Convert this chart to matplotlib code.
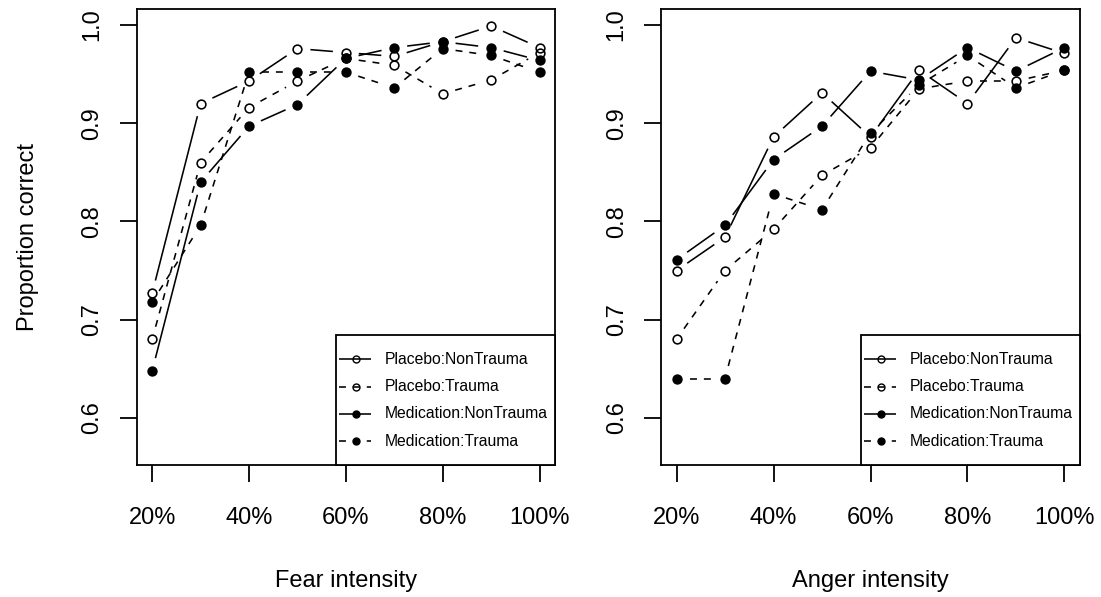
import numpy as np
import matplotlib
matplotlib.use("Agg")
import matplotlib.pyplot as plt
from matplotlib.patches import Rectangle

plt.rcParams['font.family'] = ['Liberation Sans', 'DejaVu Sans']
plt.rcParams['lines.scale_dashes'] = False

# ---------------- data ----------------
intensity = [20, 30, 40, 50, 60, 70, 80, 90, 100]
tick_vals = [20, 40, 60, 80, 100]
tick_labels = ["20%", "40%", "60%", "80%", "100%"]
y_ticks = [0.6, 0.7, 0.8, 0.9, 1.0]
y_tick_labels = ["0.6", "0.7", "0.8", "0.9", "1.0"]

series_names = ["Placebo:NonTrauma", "Placebo:Trauma",
                "Medication:NonTrauma", "Medication:Trauma"]

fear_placebo_nontrauma = [0.727, 0.920, 0.943, 0.976, 0.972, 0.968, 0.983, 0.999, 0.977]
fear_placebo_trauma = [0.680, 0.860, 0.916, 0.943, 0.966, 0.959, 0.930, 0.944, 0.972]
fear_medication_nontrauma = [0.648, 0.840, 0.897, 0.919, 0.966, 0.977, 0.983, 0.977, 0.964]
fear_medication_trauma = [0.718, 0.796, 0.952, 0.952, 0.952, 0.936, 0.976, 0.969, 0.952]

anger_placebo_nontrauma = [0.750, 0.784, 0.886, 0.931, 0.886, 0.954, 0.920, 0.987, 0.971]
anger_placebo_trauma = [0.680, 0.750, 0.792, 0.847, 0.875, 0.935, 0.943, 0.943, 0.954]
anger_medication_nontrauma = [0.761, 0.796, 0.863, 0.897, 0.953, 0.944, 0.977, 0.953, 0.977]
anger_medication_trauma = [0.640, 0.640, 0.828, 0.812, 0.890, 0.939, 0.969, 0.936, 0.954]

x_labels = ["Fear intensity", "Anger intensity"]
y_label = "Proportion correct"

# ---------------- styles ----------------
DASH = (0, (5, 5))
styles = [
    dict(ls='-', mfc='none'),
    dict(ls=DASH, mfc='none'),
    dict(ls='-', mfc='black'),
    dict(ls=DASH, mfc='black'),
]

W, H = 1101, 597
fig = plt.figure(figsize=(W / 100, H / 100), dpi=100)

AX_PX = [(136.7, 555, 9.3, 465), (661, 1080, 9.3, 465)]


def px_rect(x0, x1, ytop, ybot):
    return [x0 / W, 1 - ybot / H, (x1 - x0) / W, (ybot - ytop) / H]


axes = [fig.add_axes(px_rect(*r)) for r in AX_PX]

panels = [
    [fear_placebo_nontrauma, fear_placebo_trauma, fear_medication_nontrauma, fear_medication_trauma],
    [anger_placebo_nontrauma, anger_placebo_trauma, anger_medication_nontrauma, anger_medication_trauma],
]

GAP = 13.0  # pixel gap around points (R type="b")
LW = 1.15


def gapped(ax, xs, ys, gap, **kw):
    """Draw a line through the data points leaving a gap around each point."""
    pts = ax.transData.transform(np.column_stack([xs, ys]))
    inv = ax.transData.inverted()
    for p0, p1 in zip(pts[:-1], pts[1:]):
        d = p1 - p0
        L = np.hypot(*d)
        if L <= 2 * gap:
            continue
        u = d / L
        seg = inv.transform(np.vstack([p0 + u * gap, p1 - u * gap]))
        ax.plot(seg[:, 0], seg[:, 1], color='black', lw=LW,
                solid_capstyle='butt', dash_capstyle='butt', **kw)


for ax, data, (ax0, ax1, atop, abot) in zip(axes, panels, AX_PX):
    ax.set_xlim(16.8, 103.2)
    ax.set_ylim(0.552, 1.016)
    for vals, st in zip(data, styles):
        gapped(ax, intensity, vals, GAP, ls=st['ls'])
        ax.plot(intensity, vals, ls='none', marker='o', ms=6.3,
                mfc=st['mfc'], mec='black', mew=1.15)
    ax.set_xticks(tick_vals)
    ax.set_xticklabels(tick_labels)
    ax.set_yticks(y_ticks)
    ax.set_yticklabels(y_tick_labels)
    ax.tick_params(axis='both', direction='out', length=12, width=1.3,
                   labelsize=17, color='black')
    ax.tick_params(axis='x', pad=18)
    ax.tick_params(axis='y', pad=12, labelrotation=90)
    for lab in ax.get_yticklabels():
        lab.set_va('center')
    for sp in ax.spines.values():
        sp.set_linewidth(1.3)
        sp.set_color('black')

    # ---- legend drawn R-style in the lower right corner ----
    aw, ah = ax1 - ax0, abot - atop

    def fx(px):
        return (px - ax0) / aw

    def fy(py):
        return (abot - py) / ah

    leg_left = ax1 - 219
    leg_top = abot - 130
    ax.add_patch(Rectangle((fx(leg_left), 0), fx(ax1) - fx(leg_left), fy(leg_top),
                           transform=ax.transAxes, facecolor='white',
                           edgecolor='black', lw=1.3, zorder=5, clip_on=False))
    for i, (name, st) in enumerate(zip(series_names, styles)):
        ry = leg_top + 24.3 + i * 27.3
        ax.plot([fx(leg_left + 3), fx(leg_left + 35)], [fy(ry), fy(ry)],
                transform=ax.transAxes, color='black', lw=LW, ls=st['ls'],
                dash_capstyle='butt', solid_capstyle='butt', zorder=6, clip_on=False)
        ax.plot([fx(leg_left + 20)], [fy(ry)], transform=ax.transAxes,
                marker='o', ms=5.0, mfc=st['mfc'], mec='black', mew=1.0,
                ls='none', zorder=7, clip_on=False)
        ax.text(fx(leg_left + 49), fy(ry), name, transform=ax.transAxes,
                ha='left', va='center', fontsize=11.3, zorder=7)

fig.text(346 / W, 1 - 581 / H, x_labels[0], ha='center', va='center', fontsize=17)
fig.text(870.5 / W, 1 - 581 / H, x_labels[1], ha='center', va='center', fontsize=17)
fig.text(28 / W, 1 - 237 / H, y_label, ha='center', va='center', fontsize=17, rotation=90)

fig.savefig("out.png", dpi=100)
